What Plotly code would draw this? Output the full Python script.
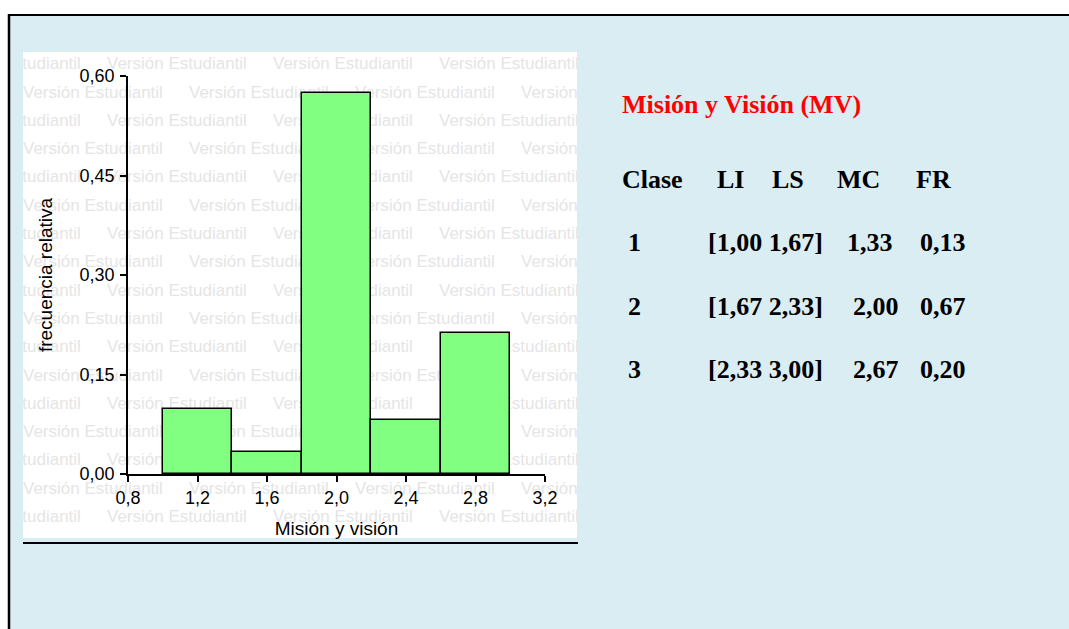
import plotly.graph_objects as go

# ---- Histogram data: relative frequency per 0.4-wide bin ----
bin_centers = [1.2, 1.6, 2.0, 2.4, 2.8]
rel_freq = [0.098, 0.033, 0.574, 0.082, 0.213]
bin_width = 0.4

x_ticks = [0.8, 1.2, 1.6, 2.0, 2.4, 2.8, 3.2]
y_ticks = [0.0, 0.15, 0.30, 0.45, 0.60]

# ---- Class table shown beside the chart ----
table_title = "Misión y Visión (MV)"
header = ["Clase", "LI", "LS", "MC", "FR"]
clase = ["1", "2", "3"]
intervalo = ["[1,00 1,67]", "[1,67 2,33]", "[2,33 3,00]"]
marca_clase = ["1,33", "2,00", "2,67"]
frec_rel = ["0,13", "0,67", "0,20"]

watermark_text = "Versión Estudiantil"

W, H = 1069, 629
PANEL = "#daedf3"


def px(x):
    return x / W


def py(y):
    return 1 - y / H


fig = go.Figure()

# Repeating watermark behind the histogram (own pixel-based subplot)
wm_x, wm_y, wm_t = [], [], []
row_step = 28.3
col_step = 166
for i in range(17):
    yrow = 65 + i * row_step
    start = 23 if i % 2 else 107 - col_step
    k = 0
    while start + k * col_step < 577:
        wm_x.append(start + k * col_step)
        wm_y.append(yrow)
        wm_t.append(watermark_text)
        k += 1

fig.add_trace(go.Scatter(
    x=wm_x, y=wm_y, text=wm_t, mode="text", textposition="middle right",
    textfont=dict(family="Liberation Sans", size=17, color="#e5e5e5"),
    hoverinfo="skip", showlegend=False, cliponaxis=True,
    xaxis="x", yaxis="y",
))

# Histogram bars
fig.add_trace(go.Bar(
    x=bin_centers, y=rel_freq, width=bin_width,
    marker=dict(color="#80ff80", line=dict(color="black", width=1.5)),
    showlegend=False, xaxis="x2", yaxis="y2",
))

axis_font = dict(family="Liberation Sans", size=18, color="black")
title_font = dict(family="Liberation Sans", size=19, color="black")

fig.update_layout(
    width=W, height=H,
    margin=dict(l=0, r=0, t=0, b=0, pad=0, autoexpand=False),
    paper_bgcolor="white",
    plot_bgcolor="rgba(0,0,0,0)",
    separators=",.",
    bargap=0,
    xaxis=dict(domain=[px(23), px(577)], range=[23, 577], visible=False,
               fixedrange=True, automargin=False),
    yaxis=dict(domain=[py(538), py(52)], range=[538, 52], visible=False,
               fixedrange=True, automargin=False),
    xaxis2=dict(
        domain=[px(128), px(545)], range=[0.8, 3.2], anchor="y2",
        tickvals=x_ticks, tickformat=".1f", automargin=False,
        showline=True, linecolor="black", linewidth=1.8,
        ticks="outside", ticklen=6, tickwidth=1.8, tickcolor="black",
        showgrid=False, zeroline=False, tickfont=axis_font,
        title=dict(text="Misión y visión", font=title_font, standoff=15),
    ),
    yaxis2=dict(
        domain=[py(474), py(76)], range=[0, 0.6], anchor="x2",
        tickvals=y_ticks, tickformat=".2f", automargin=False,
        showline=True, linecolor="black", linewidth=1.8,
        ticks="outside", ticklen=6, tickwidth=1.8, tickcolor="black",
        ticklabelstandoff=2,
        showgrid=False, zeroline=False, tickfont=axis_font,
        title=dict(text="frecuencia relativa", font=title_font, standoff=22),
    ),
)

# Light-blue panel with black top/left edges, white chart area, rule below
fig.add_shape(type="rect", xref="paper", yref="paper",
              x0=px(8), x1=1.0, y0=0.0, y1=py(14),
              fillcolor=PANEL, line_width=0, layer="below")
fig.add_shape(type="rect", xref="paper", yref="paper",
              x0=px(23), x1=px(577), y0=py(538), y1=py(52),
              fillcolor="white", line_width=0, layer="below")
fig.add_shape(type="line", xref="paper", yref="paper",
              x0=px(8), x1=1.0, y0=py(15), y1=py(15),
              line=dict(color="black", width=2))
fig.add_shape(type="line", xref="paper", yref="paper",
              x0=px(9), x1=px(9), y0=0.0, y1=py(14),
              line=dict(color="black", width=2.5))
fig.add_shape(type="line", xref="paper", yref="paper",
              x0=px(23), x1=px(578), y0=py(543), y1=py(543),
              line=dict(color="black", width=2))

serif = "Liberation Serif"


def label(text, x, y, color="black"):
    fig.add_annotation(
        text=text, xref="paper", yref="paper", x=px(x), y=py(y),
        xanchor="left", yanchor="middle", showarrow=False, borderpad=0,
        font=dict(family=serif, size=26, color=color, weight="bold"),
    )


label(table_title, 621, 104.5, color="#ff0000")

header_x = [621, 716, 771, 836, 915]
for text, x in zip(header, header_x):
    label(text, x, 179.5)

row_y = [242.7, 306, 369]
mc_x = [846, 852, 852]
for i in range(len(clase)):
    label(clase[i], 627, row_y[i])
    label(intervalo[i], 707, row_y[i])
    label(marca_clase[i], mc_x[i], row_y[i])
    label(frec_rel[i], 919, row_y[i])

fig.write_html("out.html")
